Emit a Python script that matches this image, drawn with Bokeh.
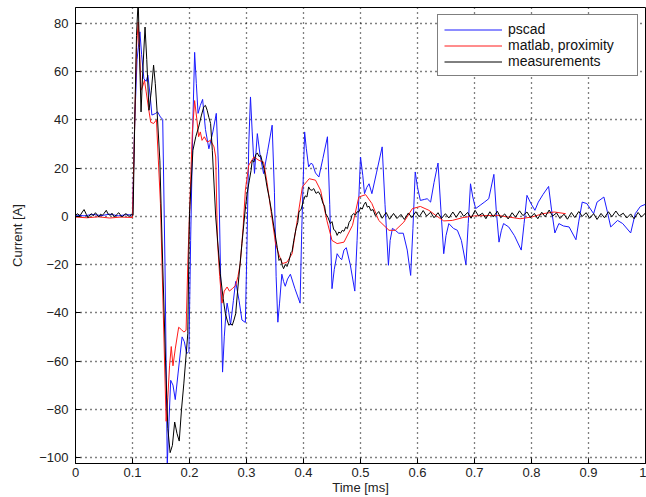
from bokeh.plotting import figure
from bokeh.models import Range1d, Legend, LegendItem
from bokeh.embed import file_html
from bokeh.resources import INLINE

# ---------------- data ----------------
X_TICKS = [0, 0.1, 0.2, 0.3, 0.4, 0.5, 0.6, 0.7, 0.8, 0.9, 1]
X_LABELS = ["0", "0.1", "0.2", "0.3", "0.4", "0.5", "0.6", "0.7", "0.8", "0.9", "1"]
Y_TICKS = [-100, -80, -60, -40, -20, 0, 20, 40, 60, 80]
Y_LABELS = ["\u2212100", "\u221280", "\u221260", "\u221240", "\u221220", "0", "20", "40", "60", "80"]

SERIES_NAMES = ["pscad", "matlab, proximity", "measurements"]

PSCAD = [
    (0.0, 0.5), (0.015, 0.2), (0.03, 0.8), (0.045, 0.3), (0.06, 0.9), (0.075, 0.2), (0.09, 0.7), (0.1, 0.5),
    (0.104, 40), (0.108, 65), (0.113, 76.5), (0.116, 67), (0.12, 57), (0.124, 56), (0.127, 58.5), (0.131, 50),
    (0.134, 42), (0.14, 42.6), (0.144, 43.3), (0.149, 41.2), (0.153, 40.2), (0.157, -20), (0.161, -103),
    (0.164, -85), (0.167, -68), (0.171, -70), (0.175, -76), (0.18, -65), (0.187, -50), (0.191, -52),
    (0.195, -57), (0.199, -56), (0.202, -10), (0.206, 40), (0.209, 68), (0.212, 55), (0.215, 42.7),
    (0.219, 46), (0.223, 48.5), (0.228, 36), (0.234, 28), (0.241, 35), (0.247, 42.7), (0.251, 20),
    (0.255, -30), (0.258, -64.6), (0.261, -50), (0.264, -40), (0.266, -36), (0.269, -40), (0.272, -45),
    (0.277, -35), (0.281, -27), (0.287, -35), (0.292, -43), (0.298, -44), (0.301, -10), (0.304, 30),
    (0.307, 49.5), (0.31, 35), (0.314, 17.8), (0.319, 34.3), (0.324, 25), (0.33, 17.7), (0.337, 27),
    (0.345, 37.8), (0.349, 10), (0.352, -25), (0.355, -43.9), (0.358, -36), (0.362, -24), (0.365, -27),
    (0.368, -29), (0.372, -26), (0.377, -24), (0.385, -30), (0.394, -36), (0.397, -5), (0.402, 35),
    (0.405, 28), (0.409, 20.5), (0.413, 22), (0.416, 21.6), (0.421, 18), (0.427, 16.3), (0.434, 24),
    (0.442, 33), (0.446, 5), (0.45, -30), (0.454, -22), (0.459, -15.5), (0.463, -17), (0.467, -18),
    (0.471, -14), (0.475, -13), (0.482, -20), (0.49, -31), (0.494, -10), (0.5, 24.6), (0.504, 17),
    (0.507, 9.4), (0.511, 12), (0.515, 13.5), (0.52, 9.4), (0.528, 18), (0.538, 28.8), (0.543, 5),
    (0.549, -20.3), (0.552, -10), (0.556, -5), (0.562, -6), (0.567, -7), (0.575, -7), (0.582, -14),
    (0.588, -24.5), (0.592, -5), (0.596, 18.4), (0.6, 12), (0.605, 6.6), (0.612, 7), (0.617, 7.3),
    (0.623, 5.9), (0.629, 14), (0.636, 22.1), (0.641, 3), (0.646, -15.5), (0.65, -8), (0.655, -3),
    (0.663, -5), (0.67, -5.8), (0.677, -10), (0.685, -20), (0.689, -3), (0.693, 13.5), (0.697, 8),
    (0.702, 3.2), (0.71, 4.6), (0.718, 6), (0.725, 7.3), (0.734, 17.4), (0.738, 3), (0.743, -10.7),
    (0.747, -6), (0.751, -3), (0.76, -4.4), (0.77, -8), (0.782, -14), (0.787, -3), (0.792, 8.7),
    (0.799, 5.3), (0.806, 2.5), (0.812, 5.9), (0.82, 9), (0.83, 12.4), (0.835, 3), (0.841, -6.9),
    (0.848, -3), (0.856, -4), (0.866, -4.4), (0.878, -9.7), (0.883, -2), (0.889, 5.9), (0.897, 5.3),
    (0.909, 1.1), (0.915, 5.9), (0.927, 8), (0.933, 2), (0.939, -4.4), (0.951, -1.7), (0.96, -3),
    (0.974, -6.9), (0.982, 1.1), (0.991, 4.1), (1.0, 5),
]

MATLAB = [
    (0.0, -0.3), (0.02, -0.6), (0.04, -0.2), (0.06, -0.7), (0.08, -0.3), (0.1, -0.5), (0.103, 30),
    (0.107, 70), (0.11, 80.6), (0.113, 65), (0.115, 52.3), (0.118, 54), (0.121, 56.4), (0.124, 51.6),
    (0.128, 45), (0.132, 39), (0.137, 38.5), (0.142, 40), (0.145, 25), (0.149, 5.4), (0.154, -40),
    (0.159, -85), (0.162, -75), (0.165, -62), (0.168, -54), (0.171, -62), (0.175, -55), (0.181, -46),
    (0.186, -47), (0.19, -48), (0.194, -47.3), (0.197, -20), (0.2, 1), (0.205, 35), (0.209, 48),
    (0.213, 40), (0.216, 33), (0.219, 35), (0.222, 31.5), (0.226, 33), (0.231, 30.8), (0.237, 31.5),
    (0.243, 28.8), (0.246, 24.6), (0.249, -10), (0.253, -25), (0.257, -36), (0.261, -31),
    (0.266, -29.3), (0.27, -31), (0.275, -30), (0.281, -28.6), (0.285, -25), (0.289, -19.6),
    (0.294, -5), (0.298, 10.8), (0.304, 21.2), (0.313, 24.6), (0.322, 23.2), (0.33, 22.5),
    (0.336, 14), (0.342, 3.9), (0.351, -11.3), (0.357, -16), (0.363, -19.6), (0.371, -19),
    (0.38, -15.5), (0.389, -1.7), (0.398, 12.2), (0.41, 15.6), (0.421, 15), (0.43, 10.8),
    (0.441, -1.7), (0.45, -10), (0.459, -11.3), (0.471, -10.7), (0.48, -6.5), (0.486, -3.7),
    (0.497, 8), (0.509, 9), (0.52, 5.3), (0.532, -1.7), (0.55, -5.8), (0.561, -5.8), (0.576, -2.4),
    (0.591, 3.2), (0.605, 4.1), (0.62, 2.5), (0.632, 0.4), (0.646, -1.9), (0.661, -1.7),
    (0.68, -0.5), (0.7, 0.2), (0.74, 0.4), (0.76, -0.3), (0.78, -1), (0.8, -0.3), (0.82, 1.1),
    (0.84, 1.8), (0.86, 1.1),
]

MEASURED = [
    (0.0, 0.2), (0.003, 1.1), (0.008, 0.3), (0.012, 1.8), (0.015, 2.8), (0.019, 0.8), (0.022, -0.6),
    (0.025, 0.5), (0.028, 1.1), (0.031, 0.2), (0.035, 1.5), (0.038, 0.6), (0.041, -0.3), (0.044, 0.9),
    (0.047, 0.4), (0.05, 1.2), (0.054, 2.5), (0.057, 1.0), (0.061, 0.4), (0.064, 1.3), (0.068, -0.3),
    (0.072, 0.7), (0.076, 1.5), (0.079, 0.5), (0.082, -0.3), (0.086, 0.8), (0.089, 1.1), (0.092, 0.2),
    (0.095, 0.0), (0.098, 0.9), (0.101, 0.4),
    (0.104, 40), (0.107, 75), (0.11, 90), (0.112, 70), (0.115, 43.3), (0.118, 60), (0.122, 78.5),
    (0.125, 65), (0.129, 44), (0.133, 52), (0.137, 62.7), (0.14, 55), (0.143, 44), (0.148, 23),
    (0.153, -20), (0.158, -60), (0.162, -88), (0.166, -98), (0.17, -95), (0.174, -85.3), (0.178, -90),
    (0.182, -93.2), (0.186, -80), (0.19, -69.5), (0.197, -48.7), (0.199, -14), (0.2, 1.2),
    (0.206, 27.4), (0.211, 33), (0.216, 37), (0.221, 42), (0.225, 45.4), (0.228, 46), (0.231, 44),
    (0.234, 41), (0.237, 38.5), (0.24, 27.4), (0.246, -0.3), (0.254, -23.8), (0.259, -34),
    (0.263, -40.4), (0.266, -43), (0.269, -45.2), (0.272, -44.5), (0.275, -45.2), (0.278, -43),
    (0.281, -40.4), (0.285, -29.3), (0.292, -11.3), (0.297, 1), (0.301, 9.4), (0.305, 15),
    (0.308, 19), (0.31, 23.2), (0.313, 22.5), (0.316, 25.5), (0.319, 26.3), (0.322, 24.8),
    (0.325, 25.2), (0.327, 23.2), (0.331, 19.5), (0.336, 12.2), (0.34, 7.5), (0.344, 2),
    (0.348, -4.4), (0.351, -8.6), (0.354, -13), (0.357, -18.3), (0.36, -17.5), (0.363, -20.5),
    (0.365, -21.7), (0.368, -20), (0.371, -20.8), (0.374, -19), (0.378, -15), (0.38, -14.5),
    (0.383, -10), (0.387, -5), (0.39, -2.5), (0.392, 1.8), (0.396, 3), (0.4, 6.6), (0.403, 8.5),
    (0.406, 8), (0.409, 12.2), (0.412, 11), (0.415, 10.8), (0.418, 11.5), (0.422, 9.5),
    (0.426, 10.2), (0.43, 8.7), (0.434, 5.5), (0.437, 4.2), (0.439, 1.1), (0.443, -0.5),
    (0.447, -3), (0.45, -2.2), (0.453, -5.5), (0.456, -6), (0.459, -7.9), (0.462, -6.5),
    (0.465, -7), (0.468, -5.8), (0.471, -6.2), (0.474, -4.5), (0.477, -5.1), (0.48, -2.5),
    (0.483, -1.5), (0.485, 0.4), (0.488, 1.2), (0.491, 0.5), (0.494, 1.9), (0.497, 1.8),
    (0.5, 3.5), (0.503, 3), (0.506, 4.8), (0.509, 5.9), (0.512, 3.8), (0.515, 4.2), (0.518, 2.4),
    (0.522, 2.8), (0.526, 0.3), (0.532, 2.0), (0.538, -0.8), (0.545, 1.6), (0.551, -1.2),
    (0.558, 1.2), (0.564, -0.9), (0.571, 0.8), (0.577, -1.3), (0.584, 1.4), (0.59, -0.5),
    (0.597, 1.9), (0.603, -0.2), (0.61, 2.4), (0.616, 0.1), (0.623, 1.7), (0.629, -0.6),
    (0.636, 1.5), (0.642, -0.9), (0.649, 1.1), (0.655, -0.7), (0.662, 1.8), (0.668, -0.4),
    (0.675, 2.2), (0.681, 0.0), (0.688, 1.6), (0.694, -0.8), (0.701, 2.5), (0.707, 0.2),
    (0.714, 1.3), (0.72, -1.0), (0.727, 1.9), (0.733, -0.3), (0.74, 2.1), (0.746, -0.6),
    (0.753, 1.0), (0.759, -1.1), (0.766, 1.5), (0.772, -0.4), (0.779, 2.3), (0.785, 0.3),
    (0.792, 1.8), (0.798, -0.5), (0.805, 1.2), (0.811, -1.0), (0.818, 1.7), (0.824, -0.2),
    (0.831, 2.6), (0.837, 0.1), (0.844, 1.4), (0.85, -0.9), (0.857, 0.9), (0.863, -1.2),
    (0.87, 1.6), (0.876, -0.5), (0.883, 2.0), (0.889, 0.0), (0.896, 1.5), (0.902, -0.8),
    (0.909, 1.1), (0.915, -1.3), (0.922, 1.2), (0.928, -0.6), (0.935, 1.9), (0.941, -0.2),
    (0.948, 2.2), (0.954, 0.2), (0.961, 1.3), (0.967, -0.7), (0.974, 1.0), (0.98, -1.0),
    (0.987, 1.6), (0.993, -0.3), (1.0, 1.4),
]

COLORS = ["#1a1aff", "#ff1a1a", "#000000"]

# ---------------- figure ----------------
FONT = "Liberation Sans"
p = figure(width=646, height=497, output_backend="svg", toolbar_location=None,
           x_range=Range1d(0, 1), y_range=Range1d(-102.5, 86.6),
           min_border_left=75, min_border_right=1, min_border_top=7, min_border_bottom=34,
           background_fill_color="white", border_fill_color="white")
p.outline_line_color = "black"
p.outline_line_width = 1

renderers = []
for data, color in zip([PSCAD, MATLAB, MEASURED], COLORS):
    xs = [d[0] for d in data]
    ys = [d[1] for d in data]
    r = p.line(xs, ys, line_color=color, line_width=1)
    renderers.append(r)

x_over = {t: lab for t, lab in zip(X_TICKS, X_LABELS)}
y_over = {t: lab for t, lab in zip(Y_TICKS, Y_LABELS)}

for ax in p.xaxis:
    ax.ticker = X_TICKS
    ax.major_label_overrides = x_over
for ax in p.yaxis:
    ax.ticker = Y_TICKS
    ax.major_label_overrides = y_over

for ax in list(p.xaxis) + list(p.yaxis):
    ax.major_tick_in = 5
    ax.major_tick_out = 0
    ax.minor_tick_line_color = None
    ax.axis_line_color = "black"
    ax.major_tick_line_color = "black"
    ax.major_label_text_font = FONT
    ax.major_label_text_font_size = "13px"
    ax.major_label_text_color = "#222222"
    ax.axis_label_text_font = FONT
    ax.axis_label_text_font_size = "13px"
    ax.axis_label_text_font_style = "normal"
    ax.axis_label_text_color = "#222222"

p.xaxis.axis_label = "Time [ms]"
p.yaxis.axis_label = "Current [A]"
p.xaxis.major_label_standoff = 4
p.xaxis.axis_label_standoff = 0
p.yaxis.major_label_standoff = 7
p.yaxis.axis_label_standoff = 11

for g in [p.xgrid[0], p.ygrid[0]]:
    g.grid_line_color = "black"
    g.grid_line_dash = "1 4"
    g.grid_line_width = 1.3
    g.grid_line_alpha = 1.0
p.xgrid.ticker = X_TICKS
p.ygrid.ticker = Y_TICKS

legend = Legend(items=[LegendItem(label=n, renderers=[r]) for n, r in zip(SERIES_NAMES, renderers)],
                location="top_right")
legend.border_line_color = "black"
legend.border_line_width = 1
legend.background_fill_color = "white"
legend.background_fill_alpha = 1
legend.label_text_font = FONT
legend.label_text_font_size = "14px"
legend.label_text_color = "#111111"
legend.glyph_width = 58
legend.glyph_height = 15
legend.label_height = 15
legend.label_width = 123
legend.label_standoff = 6
legend.padding = 6
legend.spacing = 0
legend.margin = 7
p.add_layout(legend)

open("out.html", "w").write(file_html(p, INLINE))
